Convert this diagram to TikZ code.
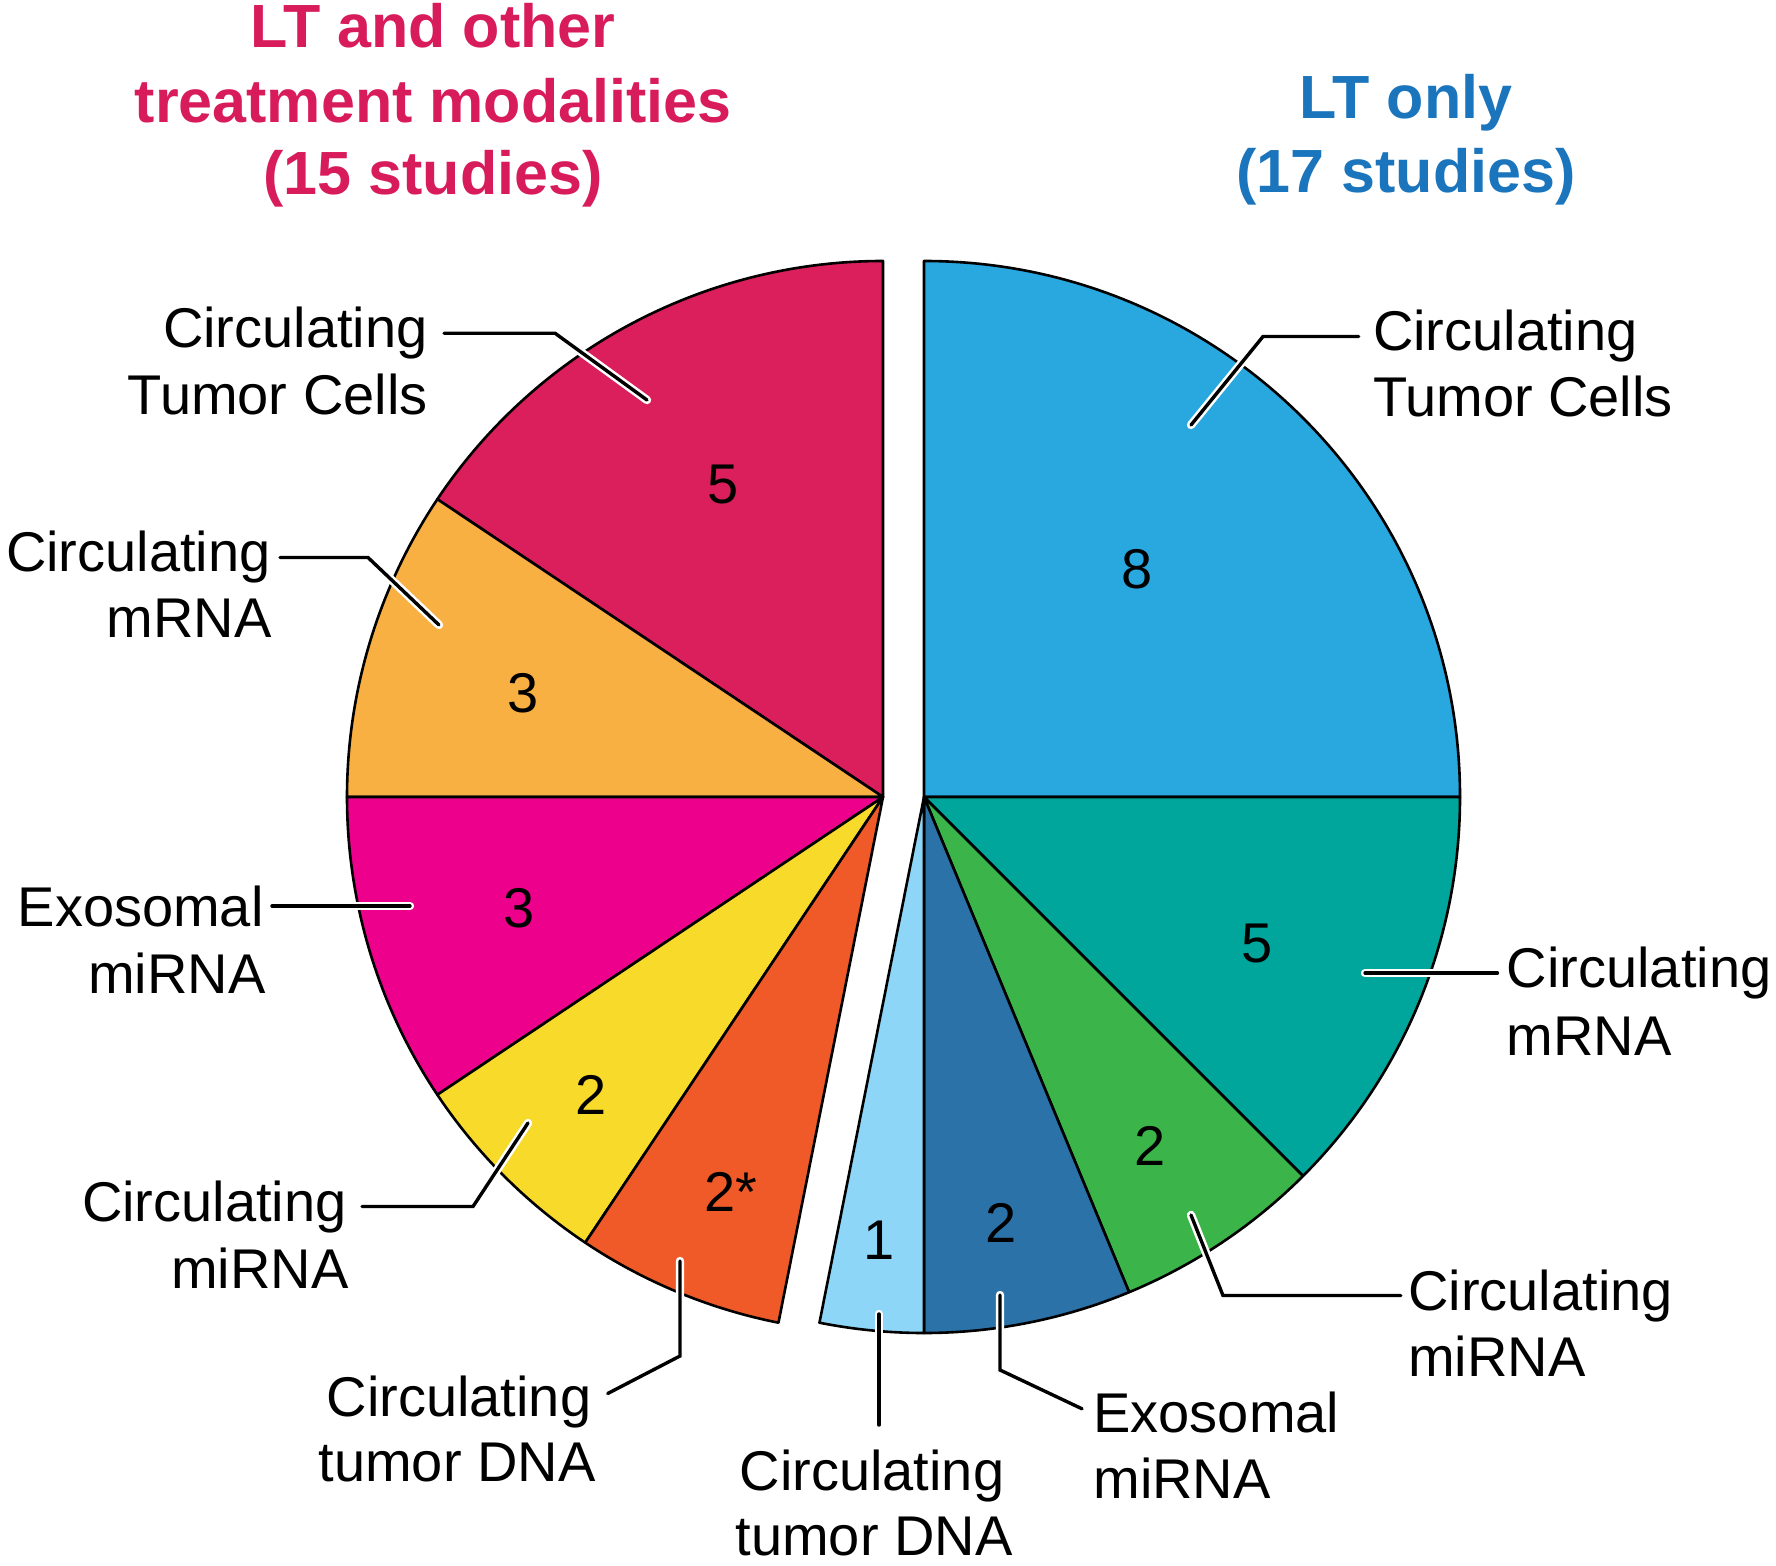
\documentclass[tikz,border=0pt]{standalone}
\usepackage{fontspec}
\setmainfont{Liberation Sans}
\usetikzlibrary{calc}
\definecolor{ctcL}{RGB}{218,31,92}
\definecolor{mrnaL}{RGB}{249,176,67}
\definecolor{exoL}{RGB}{236,0,140}
\definecolor{mirL}{RGB}{248,218,42}
\definecolor{dnaL}{RGB}{240,90,40}
\definecolor{ctcR}{RGB}{41,168,224}
\definecolor{mrnaR}{RGB}{0,166,156}
\definecolor{mirR}{RGB}{59,181,74}
\definecolor{exoR}{RGB}{43,114,168}
\definecolor{dnaR}{RGB}{141,214,247}
\definecolor{ttlL}{RGB}{216,27,90}
\definecolor{ttlR}{RGB}{27,117,188}
\begin{document}
\begin{tikzpicture}[x=0.5pt,y=-0.5pt,
  slice/.style={draw=black,line width=1.3pt,line join=round},
  num/.style={font=\fontsize{28}{33}\selectfont,inner sep=0pt},
  lbl/.style={font=\fontsize{28}{33}\selectfont,inner sep=0pt},
  ttl/.style={font=\bfseries\fontsize{30.5}{37}\selectfont,inner sep=0pt,anchor=base},
  leader/.style={line width=1.7pt,line cap=round,line join=miter,
    preaction={draw=white,line width=4.2pt,line cap=round}}]
\useasboundingbox (0,0) rectangle (1776,1566);

% titles
\node[ttl,text=ttlL] (tl1) at (433,47.6) {LT and other};
\node[ttl,text=ttlL] (tl2) at (433,122.3) {treatment modalities};
\node[ttl,text=ttlL] (tl3) at (433,194.8) {(15 studies)};
\node[ttl,text=ttlR] (tr1) at (1406,119) {LT only};
\node[ttl,text=ttlR] (tr2) at (1406,192.5) {(17 studies)};

% left pie
\coordinate (cL) at (883,797);
\foreach \a/\b/\c in {90/146.25/ctcL,146.25/180/mrnaL,180/213.75/exoL,213.75/236.25/mirL,236.25/258.75/dnaL}
  \draw[slice,fill=\c] (cL) -- ++(-\a:536) arc[start angle=-\a,end angle=-\b,radius=536] -- cycle;
% right pie
\coordinate (cR) at (924,797);
\foreach \a/\b/\c in {90/0/ctcR,0/-45/mrnaR,-45/-67.5/mirR,-67.5/-90/exoR,-90/-101.25/dnaR}
  \draw[slice,fill=\c] (cR) -- ++(-\a:536) arc[start angle=-\a,end angle=-\b,radius=536] -- cycle;

% numbers
\node[num] (nL1) at (722.6,484.8) {5};
\node[num] (nL2) at (523,693) {3};
\node[num] (nL3) at (518.7,908.4) {3};
\node[num] (nL4) at (591,1095) {2};
\node[num] (nL5) at (730.5,1191.5) {2*};
\node[num] (nR1) at (1137,569.7) {8};
\node[num] (nR2) at (1257,943.5) {5};
\node[num] (nR3) at (1149.6,1146) {2};
\node[num] (nR4) at (1001,1223) {2};
\node[num] (nR5) at (879,1240) {1};

% labels left
\node[lbl,anchor=base east] (aL1) at (428,347.7) {Circulating};
\node[lbl,anchor=base east] (aL1b) at (428,414.5) {Tumor Cells};
\node[lbl,anchor=base east] (aL2) at (271,572) {Circulating};
\node[lbl,anchor=base east] (aL2b) at (272,637.6) {mRNA};
\node[lbl,anchor=base east] (aL3) at (264,926) {Exosomal};
\node[lbl,anchor=base east] (aL3b) at (266,993) {miRNA};
\node[lbl,anchor=base east] (aL4) at (347,1221) {Circulating};
\node[lbl,anchor=base east] (aL4b) at (349,1288) {miRNA};
\node[lbl,anchor=base] (aL5) at (459,1416) {Circulating};
\node[lbl,anchor=base] (aL5b) at (457,1481) {tumor DNA};
% labels right
\node[lbl,anchor=base west] (aR1) at (1372.7,351) {Circulating};
\node[lbl,anchor=base west] (aR1b) at (1372.7,416.8) {Tumor Cells};
\node[lbl,anchor=base west] (aR2) at (1506.4,987.6) {Circulating};
\node[lbl,anchor=base west] (aR2b) at (1506.4,1055.6) {mRNA};
\node[lbl,anchor=base west] (aR3) at (1407.8,1310) {Circulating};
\node[lbl,anchor=base west] (aR3b) at (1407.8,1376) {miRNA};
\node[lbl,anchor=base west] (aR4) at (1093,1432.8) {Exosomal};
\node[lbl,anchor=base west] (aR4b) at (1093,1498.4) {miRNA};
\node[lbl,anchor=base] (aR5) at (872,1490) {Circulating};
\node[lbl,anchor=base] (aR5b) at (874,1555) {tumor DNA};

% leader points
\coordinate (kL1) at (555,331);  \coordinate (eL1) at (647,400);
\coordinate (kL2) at (368,555);  \coordinate (eL2) at (439,625);
\coordinate (eL3) at (410,906);
\coordinate (kL4) at (473,1204); \coordinate (eL4) at (528,1123);
\coordinate (kL5) at (680,1356); \coordinate (eL5) at (680,1261);
\coordinate (kR1) at (1263,331); \coordinate (eR1) at (1191,425);
\coordinate (eR2) at (1365,970);
\coordinate (kR3) at (1223,1288); \coordinate (eR3) at (1191,1215);
\coordinate (kR4) at (1000,1370); \coordinate (eR4) at (1000,1295);
\coordinate (eR5) at (879,1314);

% leaders
\draw[leader] ([xshift=8pt]aL1.east) -- (aL1.east -| kL1) -- (eL1);
\draw[leader] ([xshift=4.5pt]aL2.east) -- (aL2.east -| kL2) -- (eL2);
\draw[leader] ([xshift=4pt]aL3.east) -- (aL3.east -| eL3);
\draw[leader] ([xshift=7.5pt]aL4.east) -- (aL4.east -| kL4) -- (eL4);
\draw[leader] ([xshift=8pt,yshift=4pt]aL5.east) -- (kL5) -- (eL5);
\draw[leader] ([xshift=-7pt]aR1.west) -- (aR1.west -| kR1) -- (eR1);
\draw[leader] ([xshift=-4.5pt]aR2.west) -- (aR2.west -| eR2);
\draw[leader] ([xshift=-3.5pt]aR3.west) -- (aR3.west -| kR3) -- (eR3);
\draw[leader] ([xshift=-5.5pt,yshift=2pt]aR4.west) -- (kR4) -- (eR4);
\draw[leader] ($(eR5 |- aR5.north)+(0,-24)$) -- (eR5);
\end{tikzpicture}
\end{document}
